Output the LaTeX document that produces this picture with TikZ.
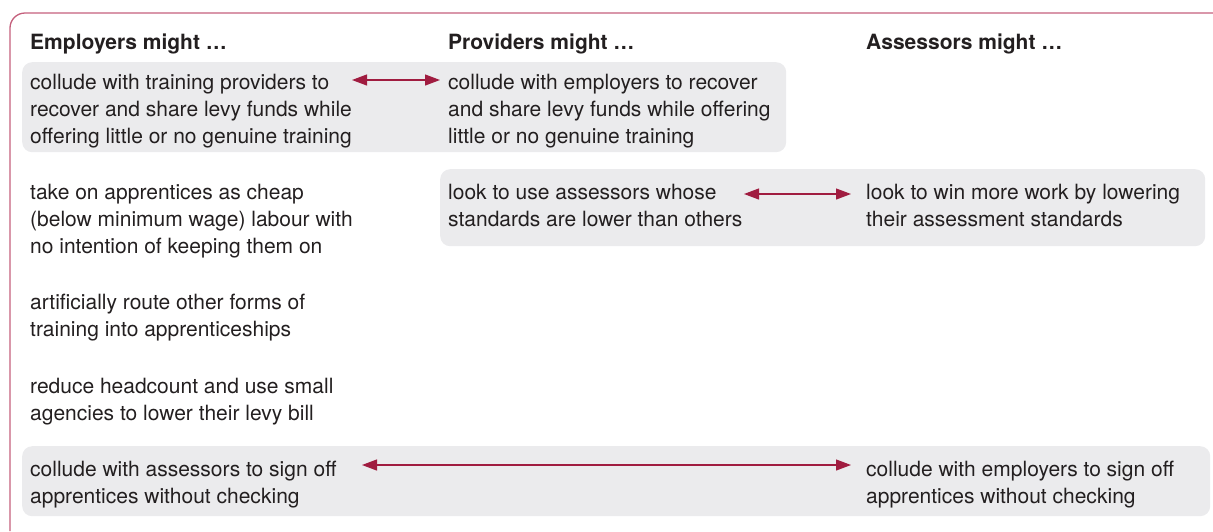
\documentclass[tikz,border=0pt]{standalone}
\usepackage{fontspec}
\setmainfont{TeX Gyre Heros}
\usetikzlibrary{arrows.meta}
\definecolor{framecol}{HTML}{C4607C}
\definecolor{arrcol}{HTML}{A01C40}
\definecolor{boxgray}{HTML}{EBEBED}
\definecolor{txt}{HTML}{231F20}
\tikzset{
  head/.style={anchor=base west, inner sep=0pt, font=\fontsize{21}{27}\selectfont\bfseries, text=txt},
  body/.style={anchor=base west, inner sep=0pt, align=left, font=\fontsize{21}{27}\selectfont, text=txt},
  graybox/.style={anchor=north west, fill=boxgray, rounded corners=10pt, inner sep=0pt, draw=none},
  biarrow/.style={draw=arrcol, line width=1.2pt, {Triangle[length=15pt,width=11pt]}-{Triangle[length=15pt,width=11pt]}},
}
\begin{document}
\begin{tikzpicture}[x=1pt,y=-1pt]
\useasboundingbox (0,0) rectangle (1213,531);
% frame
\draw[framecol, line width=1.3pt, rounded corners=15pt] (10,531) -- (10,13) -- (1213,13);
% gray boxes
\node[graybox, minimum width=764pt, minimum height=90pt] (b1) at (22,62) {};
\node[graybox, minimum width=765pt, minimum height=77pt] (b2) at (440,169) {};
\node[graybox, minimum width=1188pt, minimum height=70pt] (b3) at (22,446) {};
% headings
\node[head] (h1) at (30,49) {Employers might …};
\node[head] (h2) at (448,49) {Providers might …};
\node[head] (h3) at (866,49) {Assessors might …};
% employers (anchor = baseline of last line)
\node[body] (e1) at (30,143) {collude with training providers to\\recover and share levy funds while\\offering little or no genuine training};
\node[body] (e2) at (30,253) {take on apprentices as cheap\\(below minimum wage) labour with\\no intention of keeping them on};
\node[body] (e3) at (30,336) {artificially route other forms of\\training into apprenticeships};
\node[body] (e4) at (30,420) {reduce headcount and use small\\agencies to lower their levy bill};
\node[body] (e5) at (30,503) {collude with assessors to sign off\\apprentices without checking};
% providers
\node[body] (p1) at (448,143) {collude with employers to recover\\and share levy funds while offering\\little or no genuine training};
\node[body] (p2) at (448,226) {look to use assessors whose\\standards are lower than others};
% assessors
\node[body] (a2) at (866,226) {look to win more work by lowering\\their assessment standards};
\node[body] (a5) at (866,503) {collude with employers to sign off\\apprentices without checking};
% arrows
\coordinate (r1l) at (352,80); \coordinate (r1r) at (440,80);
\coordinate (r2l) at (744,194); \coordinate (r2r) at (851,194);
\coordinate (r5l) at (362,465); \coordinate (r5r) at (851,465);
\draw[biarrow] (r1l) -- (r1r);
\draw[biarrow] (r2l) -- (r2r);
\draw[biarrow] (r5l) -- (r5r);
\end{tikzpicture}
\end{document}
